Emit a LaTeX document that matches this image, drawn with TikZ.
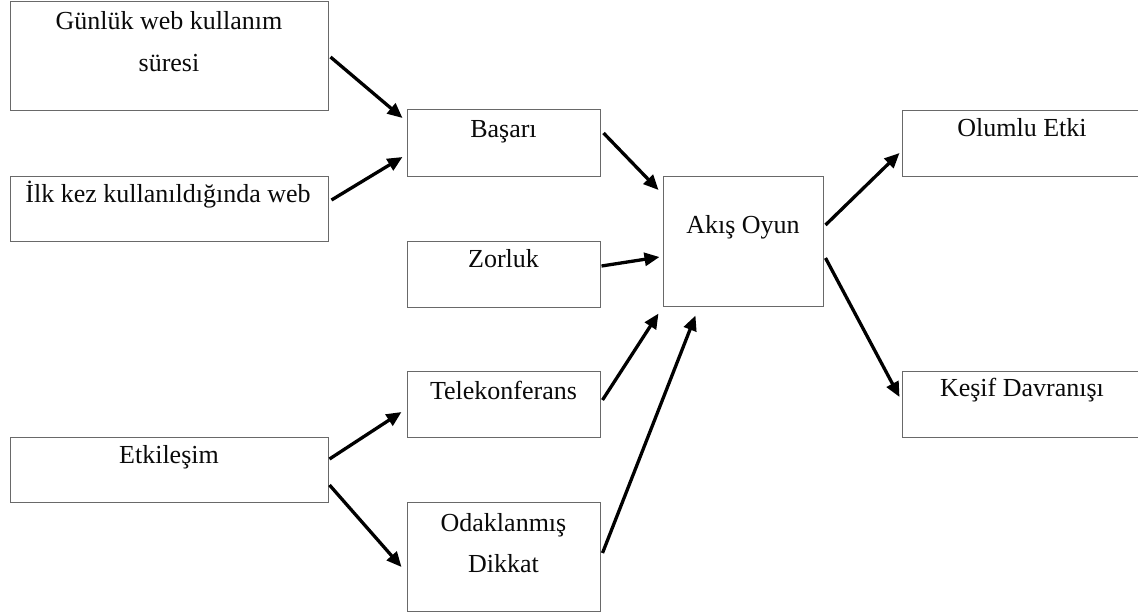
\documentclass[tikz,border=0pt]{standalone}
\usepackage{fontspec}
\setmainfont{Liberation Serif}
\usetikzlibrary{arrows.meta}
\definecolor{boxgray}{RGB}{105,105,105}
\definecolor{txt}{RGB}{10,10,10}
\begin{document}
\begin{tikzpicture}[x=1pt,y=-1pt,
  box/.style={draw=boxgray,line width=1pt,inner sep=0pt,rectangle},
  lbl/.style={anchor=base,inner sep=0pt,font=\fontsize{26}{30}\selectfont,text=txt},
  arr/.style={line width=3.3pt,-{Triangle[length=15pt,width=13pt]}}]
\useasboundingbox (0,0) rectangle (1138,614);
\clip (0,0) rectangle (1138,614);
\fill[white] (0,0) rectangle (1138,614);
% boxes
\node[box,minimum width=318pt,minimum height=109pt] (g) at (169,55.5) {};
\node[box,minimum width=318pt,minimum height=65pt] (i) at (169,208.5) {};
\node[box,minimum width=193pt,minimum height=67pt] (b) at (503.5,142.5) {};
\node[box,minimum width=193pt,minimum height=66pt] (z) at (503.5,274) {};
\node[box,minimum width=160pt,minimum height=130pt] (a) at (743,241) {};
\node[box,minimum width=193pt,minimum height=66pt] (t) at (503.5,404) {};
\node[box,minimum width=193pt,minimum height=109pt] (o) at (503.5,556.5) {};
\node[box,minimum width=318pt,minimum height=65pt] (e) at (169,469.5) {};
\node[box,minimum width=240pt,minimum height=66pt] (p) at (1022,143) {};
\node[box,minimum width=240pt,minimum height=66pt] (k) at (1022,404) {};
% labels
\node[lbl] (g1) at ([shift={(0,29)}]g.north) {Günlük web kullanım};
\node[lbl] (g2) at ([shift={(0,71)}]g.north) {süresi};
\node[lbl] (i1) at ([shift={(-1,27)}]i.north) {İlk kez kullanıldığında web};
\node[lbl] (b1) at ([shift={(0,29)}]b.north) {Başarı};
\node[lbl] (a1) at ([shift={(0,58)}]a.north) {Akış Oyun};
\node[lbl] (z1) at ([shift={(0,27)}]z.north) {Zorluk};
\node[lbl] (t1) at ([shift={(0,29)}]t.north) {Telekonferans};
\node[lbl] (o1) at ([shift={(0,30)}]o.north) {Odaklanmış};
\node[lbl] (o2) at ([shift={(0,71)}]o.north) {Dikkat};
\node[lbl] (p1) at ([shift={(0,27)}]p.north) {Olumlu Etki};
\node[lbl] (k1) at ([shift={(0,26)}]k.north) {Keşif Davranışı};
\node[lbl] (e1) at ([shift={(0,27)}]e.north) {Etkileşim};
% arrows
\draw[arr] ([shift={(2,1.5)}]g.east) -- ([shift={(-4,-24.5)}]b.west);
\draw[arr] ([shift={(3,-8.5)}]i.east) -- ([shift={(-4,14.5)}]b.west);
\draw[arr] ([shift={(3,-9.5)}]b.east) -- ([shift={(-4,-51)}]a.west);
\draw[arr] ([shift={(1,-8)}]z.east) -- ([shift={(-3,16)}]a.west);
\draw[arr] ([shift={(2,-4)}]t.east) -- ([shift={(-4,7)}]a.south west);
\draw[arr] ([shift={(2,-3.5)}]o.east) -- ([shift={(33,9)}]a.south west);
\draw[arr] ([shift={(2,-16)}]a.east) -- ([shift={(-2,10)}]p.west);
\draw[arr] ([shift={(2,17)}]a.east) -- ([shift={(-2,-7)}]k.west);
\draw[arr] ([shift={(1,-10.5)}]e.east) -- ([shift={(-5,8)}]t.west);
\draw[arr] ([shift={(1,15.5)}]e.east) -- ([shift={(-5,10.5)}]o.west);
\end{tikzpicture}
\end{document}
